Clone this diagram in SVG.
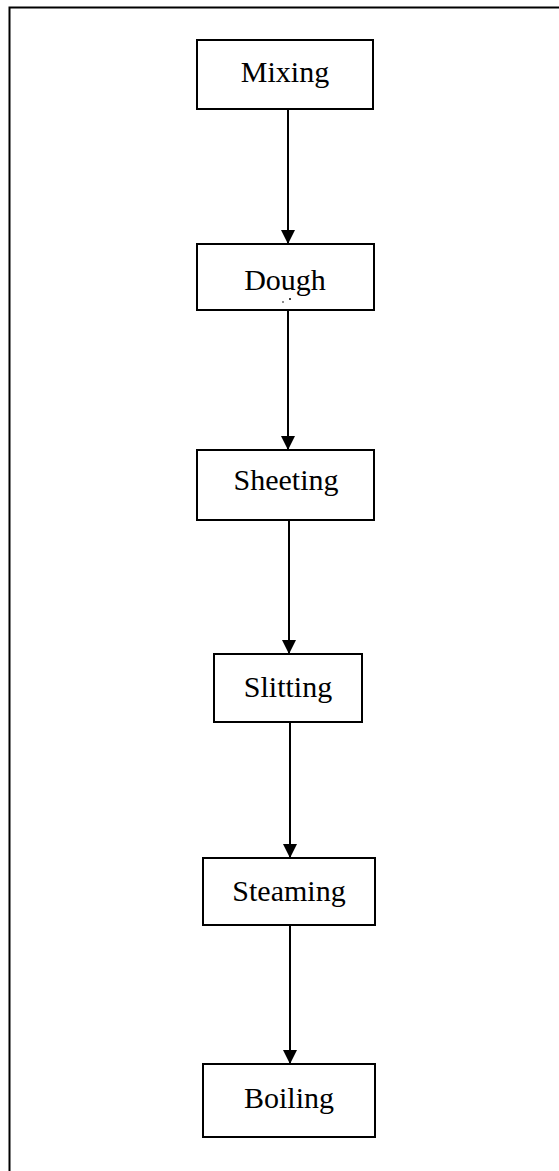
<svg xmlns="http://www.w3.org/2000/svg" width="559" height="1171" viewBox="0 0 559 1171">
<defs>
<style>
.box{fill:#fff;stroke:#000;stroke-width:2}
.lbl{font-family:"Liberation Serif","Times New Roman",serif;font-size:30px;fill:#000;text-anchor:middle}
.ln{stroke:#000;stroke-width:2;fill:none}
</style>
<marker id="ah" markerWidth="14" markerHeight="14" viewBox="0 0 14 14" refX="14" refY="7" orient="auto" markerUnits="userSpaceOnUse">
<path d="M0,0 L14,7 L0,14 Z" fill="#000"/>
</marker>
</defs>
<rect width="559" height="1171" fill="#fff"/>
<rect x="9.5" y="7.5" width="600" height="1200" fill="none" stroke="#000" stroke-width="2"/>
<g id="connectors">
<line class="ln" x1="288" y1="109" x2="288" y2="244" marker-end="url(#ah)"/>
<line class="ln" x1="288" y1="310" x2="288" y2="450" marker-end="url(#ah)"/>
<line class="ln" x1="289" y1="520" x2="289" y2="654" marker-end="url(#ah)"/>
<line class="ln" x1="290" y1="722" x2="290" y2="858" marker-end="url(#ah)"/>
<line class="ln" x1="290" y1="925" x2="290" y2="1064" marker-end="url(#ah)"/>
</g>
<g id="mixing"><rect class="box" x="197" y="40" width="176" height="69"/><text class="lbl" x="285" y="82">Mixing</text></g>
<g id="dough"><rect class="box" x="197" y="244" width="177" height="66"/><text class="lbl" x="285" y="290">Dough</text>
<circle cx="283" cy="302" r="0.8" fill="#000"/><circle cx="290" cy="299" r="1" fill="#000"/></g>
<g id="sheeting"><rect class="box" x="197" y="450" width="177" height="70"/><text class="lbl" x="286" y="490">Sheeting</text></g>
<g id="slitting"><rect class="box" x="214" y="654" width="148" height="68"/><text class="lbl" x="288" y="697">Slitting</text></g>
<g id="steaming"><rect class="box" x="203" y="858" width="172" height="67"/><text class="lbl" x="289" y="901">Steaming</text></g>
<g id="boiling"><rect class="box" x="203" y="1064" width="172" height="73"/><text class="lbl" x="289" y="1108">Boiling</text></g>
</svg>
